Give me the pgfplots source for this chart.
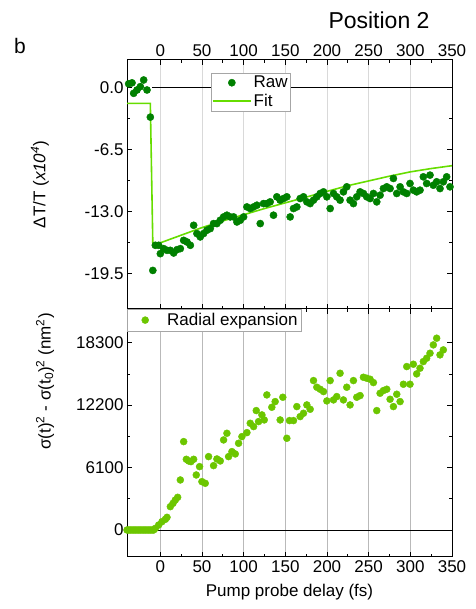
\documentclass[border=0pt]{standalone}
\usepackage{pgfplots}
\pgfplotsset{compat=1.18}
\usepackage{fontspec}
\setmainfont{Liberation Sans}
\definecolor{rawgreen}{RGB}{0,128,0}
\definecolor{fitgreen}{RGB}{102,221,0}
\definecolor{radgreen}{RGB}{108,198,0}
\newcommand{\fs}{\fontsize{17}{19}\selectfont}
\pgfplotsset{
  myaxis/.style={
    scale only axis, width=325pt,
    xmin=-40, xmax=350,
    xtick={0,50,...,350}, minor x tick num=1,
    major tick length=5pt, minor tick length=3pt,
    tick style={black, line width=0.7pt},
    axis line style={line width=1pt},
    ticklabel style={font=\fs},
    /pgf/number format/assume math mode=true,
    label style={font=\fs},
    xmajorgrids,
  },
  longmark/.style={legend image code/.code={\path[draw=none,fill=none] (0pt,0pt) -- (38pt,0pt); \draw[##1] plot coordinates {(19pt,0pt)};}},
  shortmark/.style={legend image code/.code={\path[draw=none,fill=none] (0pt,0pt) -- (36pt,0pt); \draw[##1] plot coordinates {(16pt,0pt)};}},
  longline/.style={legend image code/.code={\draw[##1] (0pt,0pt) -- (38pt,0pt);}},
}
\begin{document}
\begin{tikzpicture}
\path[use as bounding box] (0,0) rectangle (475pt,609pt);
\node[font=\fontsize{23}{25}\selectfont] at (379pt,589pt) {Position 2};
\node[font=\fontsize{21}{23}\selectfont] at (20pt,563pt) {b};
% top panel
\begin{axis}[myaxis, at={(127pt,300pt)}, anchor=south west, height=249pt,
  ymin=-23.25, ymax=2.9,
  major grid style={gray!30, line width=0.8pt},
  ytick={0,-6.5,-13,-19.5}, yticklabels={0.0,-6.5,-13.0,-19.5},
  minor y tick num=1,
  xticklabel pos=right,
  ylabel={ΔT/T (\textit{x10\textsuperscript{4}})},
  ylabel style={at={(axis description cs:-0.268,0.5)}, anchor=center},
  legend style={at={(0.258,0.948)}, anchor=north west, draw=gray!70, fill=white,
    font=\fs, inner sep=1pt, row sep=1pt, cells={anchor=west}},
]
\addplot[black, line width=0.9pt, forget plot] coordinates {(-10,0) (350,0)};
\addplot[only marks, mark=*, mark size=3.6pt, color=rawgreen, longmark]
  coordinates {
(-38,0.4) (-34,0.5) (-32,-0.6) (-28,-0.25) (-24,0.1) (-20,0.8) (-16,-0.25) (-12,-3.1) (-9,-19.2)
(-6.0,-16.56) (-2.0,-16.56) (0,-17.44) (4.0,-16.91) (8.0,-17.09) (12.0,-17.09) (16.0,-17.37) (20.0,-17.02)
(24.0,-16.91) (28.0,-16.04) (32.0,-16.21) (36.0,-16.56) (40.0,-14.46) (43.9,-15.33) (47.9,-15.68) (51.9,-15.33)
(55.9,-14.98) (59.9,-14.81) (63.9,-14.28) (67.9,-14.28) (71.9,-13.93) (75.9,-13.58) (79.9,-13.40) (83.9,-13.58)
(87.9,-13.58) (91.9,-14.11) (95.9,-13.93) (99.9,-13.58) (103.9,-12.53) (107.9,-12.70) (111.9,-12.53) (115.9,-12.35)
(119.9,-14.28) (123.9,-12.18) (127.8,-12.18) (131.8,-12.00) (135.8,-13.40) (139.8,-11.47) (143.8,-11.82) (147.8,-11.65)
(151.8,-11.47) (155.8,-13.58) (159.8,-12.70) (163.8,-12.53) (167.8,-11.65) (171.8,-11.47) (175.8,-12.00) (179.8,-12.18)
(183.8,-11.82) (187.8,-11.47) (191.8,-11.12) (195.8,-10.95) (199.8,-11.47) (203.8,-12.70) (207.8,-11.12) (211.7,-11.47)
(215.7,-11.82) (219.7,-10.95) (223.7,-10.42) (227.7,-11.82) (231.7,-12.18) (235.7,-11.47) (239.7,-10.95) (243.7,-11.12)
(247.7,-11.47) (251.7,-11.65) (255.7,-11.12) (259.7,-12.00) (263.7,-11.30) (267.7,-10.60) (271.7,-10.42) (275.7,-10.60)
(279.7,-9.54) (283.7,-11.12) (287.7,-10.42) (291.7,-10.95) (295.7,-11.12) (299.6,-10.07) (303.6,-10.77) (307.6,-10.95)
(311.6,-10.77) (315.6,-9.37) (319.6,-10.07) (323.6,-9.19) (327.6,-10.25) (331.6,-9.89) (335.6,-10.60) (339.6,-9.89)
(343.6,-9.37) (347.6,-10.42)
};
\addlegendentry{Raw}
\addplot[color=fitgreen, line width=1.6pt, no marks, longline]
  coordinates {
(-40,-1.65) (-12,-1.65) (-9,-16.5) (0,-16.3) (25,-15.5) (50,-14.7) (75,-14.0) (100,-13.35) (125,-12.7)
(150,-12.1) (175,-11.5) (200,-10.9) (225,-10.3) (250,-9.8) (275,-9.3) (300,-8.85) (325,-8.5) (350,-8.2)
};
\addlegendentry{Fit}
\end{axis}
% bottom panel
\begin{axis}[myaxis, at={(127pt,52pt)}, anchor=south west, height=248pt,
  ymin=-2638, ymax=21594,
  major grid style={gray!55, line width=0.8pt},
  ytick={0,6100,12200,18300}, yticklabels={0,6100,12200,18300},
  minor y tick num=1, scaled y ticks=false,
  xticklabels={0,50,100,150,200,250,300,350},
  xlabel={Pump probe delay (fs)},
  xlabel style={at={(axis description cs:0.5,-0.141)}, anchor=center},
  ylabel={σ(t)\textsuperscript{2} - σ(t\textsubscript{0})\textsuperscript{2} (nm\textsuperscript{2})},
  ylabel style={at={(axis description cs:-0.252,0.708)}, anchor=center},
  legend style={at={(0,1)}, anchor=north west, draw=gray!70, fill=white,
    font=\fs, inner sep=2pt, cells={anchor=west}},
]
\addplot[black, line width=0.9pt, forget plot] coordinates {(-10,0) (350,0)};
\addplot[only marks, mark=*, mark size=3.5pt, color=radgreen, shortmark]
  coordinates {
(-40,0) (-38,0) (-36,0) (-34,0) (-32,0) (-30,0) (-28,0) (-26,0) (-24,0) (-22,0) (-20,0) (-18,0) (-16,0) (-14,0) (-12,0) (-10,0) (-8,0)
(-6.0,163) (-2.0,489) (2.0,815) (6.0,1043) (8.0,1238) (12.0,2281) (15.2,2607) (18.0,2933) (20.8,3194) (24.0,4889)
(28.0,8636) (31.2,6909) (34.0,6746) (36.8,6681) (40.0,6909) (43.1,5377) (47.1,6192) (49.9,4726) (53.9,4563)
(57.9,7170) (63.9,6290) (67.9,6942) (71.9,6746) (75.9,8799) (79.9,9451) (81.9,7170) (85.9,7659) (89.9,7431)
(93.9,8473) (97.9,9125) (103.9,9516) (107.9,10429) (111.9,10103) (115.1,11667) (117.9,10592) (121.9,11244)
(124.7,10755) (127.8,13199) (133.8,11993) (137.8,12547) (143.8,10755) (147.0,12971) (151.8,8962) (155.0,10690)
(159.8,10690) (163.8,12058) (167.8,11081) (171.8,11407) (175.8,12221) (179.8,11797) (183.8,14600) (187.8,13949)
(191.8,13753) (195.8,13525) (199.8,12612) (203.8,14600) (207.8,12710) (211.7,13036) (215.7,15317) (219.7,12710)
(223.7,13949) (227.7,12221) (231.7,14600) (235.7,12971) (239.7,13134) (243.7,14926) (247.7,14828) (251.7,14731)
(255.7,14404) (259.7,11667) (263.7,13362) (267.7,13623) (271.7,13753) (275.7,12775) (279.7,12058) (283.7,13264)
(287.7,12547) (291.7,14242) (295.7,15969) (299.6,14242) (303.6,16197) (307.6,15252) (311.6,15806) (315.6,16458)
(319.6,16784) (323.6,17272) (327.6,18087) (331.6,18739) (335.6,17110) (339.6,17599)
};
\addlegendentry{Radial expansion\hspace{6pt}}
\end{axis}
\end{tikzpicture}
\end{document}
